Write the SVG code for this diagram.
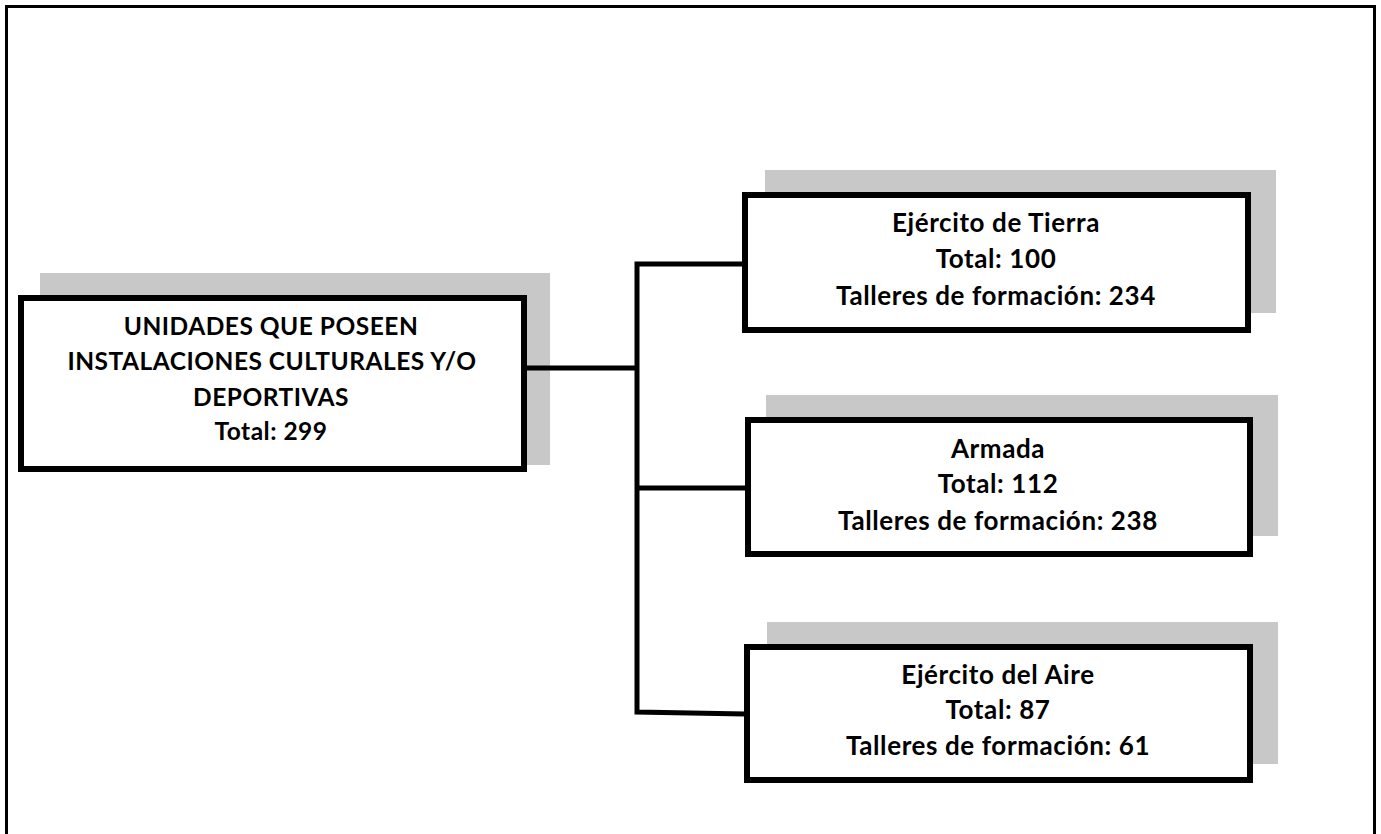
<svg xmlns="http://www.w3.org/2000/svg" width="1381" height="834" viewBox="0 0 1381 834">
<style>
.shadow{fill:#c8c8c8}
.box{fill:#fff;stroke:#000;stroke-width:6}
.t{font-family:Lato,"Liberation Sans",sans-serif;font-weight:bold;font-size:26px;letter-spacing:0.6px;fill:#000;text-anchor:middle}
.m{font-size:24.5px;letter-spacing:0.5px}
.con{fill:none;stroke:#000;stroke-width:5;stroke-linejoin:miter}
</style>
<rect width="1381" height="834" fill="#fff"/>
<path d="M6.5 840 V6.5 H1374.5 V840" fill="none" stroke="#000" stroke-width="3"/>
<g id="root">
<rect class="shadow" x="40" y="273" width="510" height="192"/>
<rect class="box" x="21" y="298" width="503" height="171"/>
<text class="t m" x="271" y="335">UNIDADES QUE POSEEN</text>
<text class="t m" x="272" y="370">INSTALACIONES CULTURALES Y/O</text>
<text class="t m" x="271" y="406">DEPORTIVAS</text>
<text class="t m" x="271" y="440">Total: 299</text>
</g>
<g id="tierra">
<rect class="shadow" x="765" y="170" width="511" height="143"/>
<rect class="box" x="745" y="195" width="503" height="135"/>
<text class="t" x="996" y="232">Ejército de Tierra</text>
<text class="t" x="996" y="268">Total: 100</text>
<text class="t" x="996" y="305">Talleres de formación: 234</text>
</g>
<g id="armada">
<rect class="shadow" x="766" y="395" width="512" height="141"/>
<rect class="box" x="748" y="420" width="502" height="134"/>
<text class="t" x="998" y="458">Armada</text>
<text class="t" x="998" y="493">Total: 112</text>
<text class="t" x="998" y="530">Talleres de formación: 238</text>
</g>
<g id="aire">
<rect class="shadow" x="767" y="622" width="511" height="142"/>
<rect class="box" x="747" y="647" width="503" height="133"/>
<text class="t" x="998" y="684">Ejército del Aire</text>
<text class="t" x="998" y="719">Total: 87</text>
<text class="t" x="998" y="755">Talleres de formación: 61</text>
</g>
<g id="connectors">
<path class="con" d="M527 368 H637"/>
<path class="con" d="M744 264 H637 V712 L745 714"/>
<path class="con" d="M637 488 H745"/>
</g>
</svg>
